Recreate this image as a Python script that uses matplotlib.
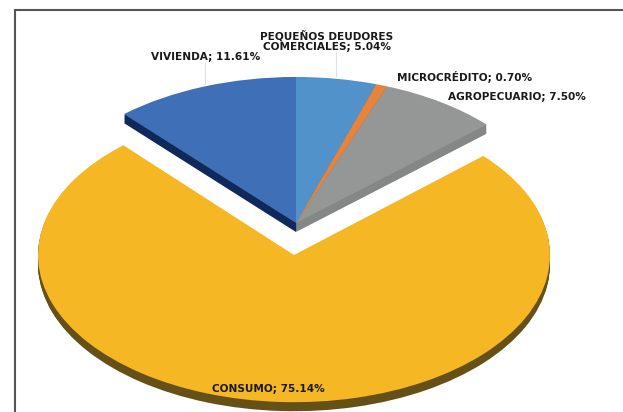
import matplotlib
matplotlib.use('Agg')
import matplotlib.pyplot as plt

W, H = 623, 412

sectores = ['PEQUEÑOS DEUDORES\nCOMERCIALES', 'MICROCRÉDITO', 'AGROPECUARIO', 'CONSUMO', 'VIVIENDA']
valores = [5.04, 0.70, 7.50, 75.14, 11.61]
colores = ['#5192ca', '#e8833a', '#959696', '#f5b724', '#3f70b7']
lados = ['#3f76a8', '#b5622a', '#858787', '#655017', '#10295a']
pos_etiquetas = [(327, 41), (465, 77), (517, 97), (268, 389), (206, 57)]


def dibuja_pie(ratio, cx, cy, radio, mostrar, prof):
    # ejes a pantalla completa, achatados en y para simular la perspectiva
    ax = fig.add_axes([0, 0, 1, 1])
    ax.set_facecolor('none')
    for d in range(prof, -1, -1):
        col = colores if d == 0 else lados
        wedges, _ = ax.pie(valores, colors=col, startangle=90, counterclock=False,
                           radius=radio, center=(cx, (H - cy - d) / ratio))
        for w, s in zip(wedges, sectores):
            w.set_visible(s in mostrar)
    ax.set_aspect('auto')
    ax.set_xlim(0, W)
    ax.set_ylim(0, H / ratio)
    ax.axis('off')
    return ax


fig = plt.figure(figsize=(W / 100, H / 100), dpi=100, facecolor='white')

dibuja_pie(0.575, 294, 255, 256, ['CONSUMO'], 9)
dibuja_pie(0.566, 296, 223, 258, [s for s in sectores if s != 'CONSUMO'], 9)

# capa en pixeles para marco, lineas guia y textos
top = fig.add_axes([0, 0, 1, 1])
top.set_xlim(0, W)
top.set_ylim(H, 0)
top.axis('off')
top.set_facecolor('none')
top.plot([14.5, 14.5, W], [H, 10, 10], color='#555555', lw=1.5, solid_joinstyle='miter')
top.plot([205, 205], [63, 84], color='#e0e0e0', lw=0.8)
top.plot([336, 336], [52, 76], color='#e0e0e0', lw=0.8)

for s, v, (x, y) in zip(sectores, valores, pos_etiquetas):
    top.text(x, y, '%s; %.2f%%' % (s, v), ha='center', va='center', fontsize=7.6,
             fontweight='bold', color='#1a1a1a', family='DejaVu Sans',
             linespacing=1.05)

fig.savefig('out.png', dpi=100)
